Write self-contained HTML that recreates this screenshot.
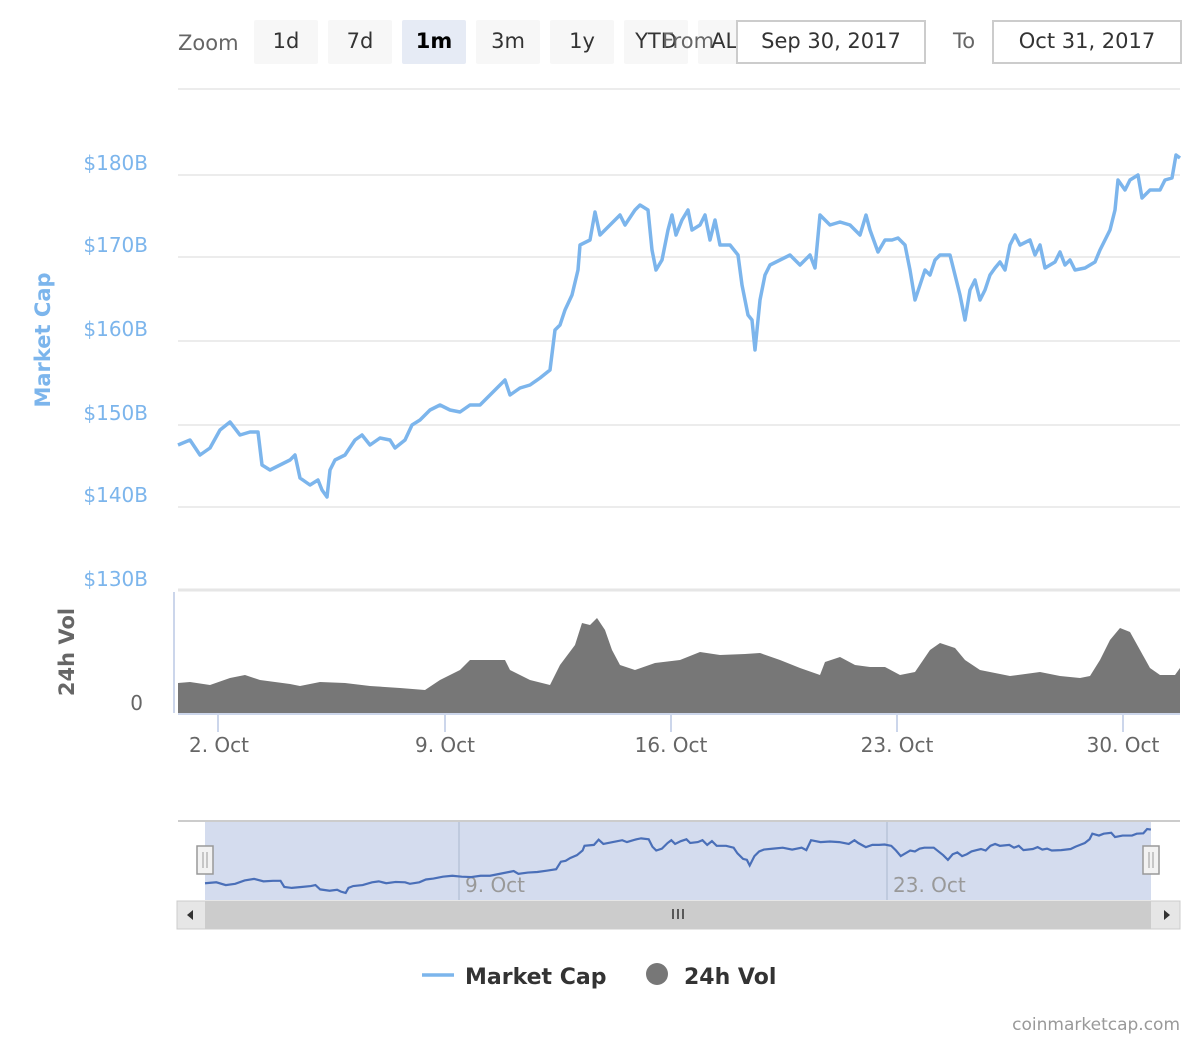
<!DOCTYPE html>
<html><head><meta charset="utf-8"><style>
body{margin:0;background:#fff;}
svg text{font-family:"DejaVu Sans","Liberation Sans",sans-serif;}
</style></head><body>
<svg width="1200" height="1040" xmlns="http://www.w3.org/2000/svg">
<defs>
<polyline id="price" fill="none" vector-effect="non-scaling-stroke" points="178,445 190,440 200,455 210,448 220,430 230,422 240,435 250,432 258,432 262,465 270,470 280,465 290,460 295,455 300,478 310,485 318,480 322,490 327,497 330,470 335,460 345,455 355,440 362,435 370,445 380,438 390,440 395,448 405,440 412,425 420,420 430,410 440,405 450,410 460,412 470,405 480,405 490,395 500,385 505,380 510,395 520,388 530,385 540,378 550,370 555,330 560,325 565,310 572,295 578,270 580,245 590,240 595,212 600,235 610,225 620,215 625,225 635,210 640,205 648,210 652,250 656,270 662,260 668,230 672,215 676,235 682,220 688,210 692,230 700,225 705,215 710,240 715,220 720,245 730,245 738,255 742,285 748,315 752,320 755,350 760,300 765,275 770,265 780,260 790,255 800,265 810,255 815,268 820,215 830,225 840,222 850,225 860,235 866,215 870,230 878,252 885,240 892,240 898,238 905,245 910,270 915,300 920,285 925,270 930,275 935,260 940,255 950,255 955,275 960,295 965,320 970,290 975,280 980,300 985,290 990,275 995,268 1000,262 1005,270 1010,245 1015,235 1020,245 1030,240 1035,255 1040,245 1045,268 1055,262 1060,252 1065,265 1070,260 1075,270 1085,268 1095,262 1100,250 1105,240 1110,230 1115,210 1118,180 1125,190 1130,180 1138,175 1142,198 1150,190 1160,190 1165,180 1172,178 1176,155 1180,158"/>
</defs>
<g font-size="21" fill="#333">
<text x="178" y="50" fill="#666">Zoom</text>
<rect x="254" y="20" width="64" height="44" rx="2" fill="#f7f7f7"/><text x="286" y="48" text-anchor="middle">1d</text>
<rect x="328" y="20" width="64" height="44" rx="2" fill="#f7f7f7"/><text x="360" y="48" text-anchor="middle">7d</text>
<rect x="402" y="20" width="64" height="44" rx="2" fill="#e6ebf5"/><text x="434" y="48" text-anchor="middle" font-weight="bold" fill="#000">1m</text>
<rect x="476" y="20" width="64" height="44" rx="2" fill="#f7f7f7"/><text x="508" y="48" text-anchor="middle">3m</text>
<rect x="550" y="20" width="64" height="44" rx="2" fill="#f7f7f7"/><text x="582" y="48" text-anchor="middle">1y</text>
<rect x="624" y="20" width="64" height="44" rx="2" fill="#f7f7f7"/><text x="656" y="48" text-anchor="middle">YTD</text>
<rect x="698" y="20" width="64" height="44" rx="2" fill="#f7f7f7"/>
<text x="662" y="48" fill="#666">From</text><text x="730" y="48" text-anchor="middle">ALL</text>
<rect x="737" y="21" width="188" height="42" fill="#fff" stroke="#ccc" stroke-width="2"/><text x="831" y="48" text-anchor="middle">Sep 30, 2017</text>
<text x="964" y="48" text-anchor="middle" fill="#666">To</text>
<rect x="993" y="21" width="188" height="42" fill="#fff" stroke="#ccc" stroke-width="2"/><text x="1087" y="48" text-anchor="middle">Oct 31, 2017</text>
</g>
<g stroke="#e6e6e6" stroke-width="1.5">
<line x1="178" y1="89" x2="1180" y2="89"/>
<line x1="178" y1="175" x2="1180" y2="175"/>
<line x1="178" y1="257" x2="1180" y2="257"/>
<line x1="178" y1="341" x2="1180" y2="341"/>
<line x1="178" y1="425" x2="1180" y2="425"/>
<line x1="178" y1="507" x2="1180" y2="507"/>
<line x1="178" y1="590" x2="1180" y2="590" stroke-width="3"/>
</g>
<g font-size="20" fill="#7cb5ec" text-anchor="end">
<text x="148" y="170">$180B</text><text x="148" y="252">$170B</text><text x="148" y="336">$160B</text>
<text x="148" y="420">$150B</text><text x="148" y="502">$140B</text><text x="148" y="586">$130B</text>
</g>
<text transform="translate(50,340) rotate(-90)" font-size="21" font-weight="bold" fill="#7cb5ec" text-anchor="middle">Market Cap</text>
<text transform="translate(74,652) rotate(-90)" font-size="21" font-weight="bold" fill="#666" text-anchor="middle">24h Vol</text>
<text x="143" y="710" font-size="20" fill="#666" text-anchor="end">0</text>
<line x1="174" y1="592" x2="174" y2="713" stroke="#ccd6eb" stroke-width="2"/>
<polygon fill="#777" points="178,713 178,683 190,682 210,685 230,678 245,675 260,680 290,684 300,686 320,682 345,683 370,686 400,688 425,690 440,680 460,670 470,660 505,660 510,670 530,680 550,685 560,665 575,645 582,623 590,625 597,618 605,630 612,650 620,665 635,670 655,663 680,660 700,652 720,655 745,654 760,653 780,660 800,668 820,675 825,662 840,657 855,665 870,667 885,667 900,675 915,672 930,650 940,643 955,648 965,660 980,670 1010,676 1040,672 1060,676 1080,678 1090,676 1100,660 1110,640 1120,628 1130,632 1140,650 1150,668 1160,675 1175,675 1180,668 1180,713"/>
<line x1="178" y1="714" x2="1180" y2="714" stroke="#ccd6eb" stroke-width="2"/>
<g stroke="#ccd6eb" stroke-width="2"><line x1="218" y1="714" x2="218" y2="732"/><line x1="445" y1="714" x2="445" y2="732"/><line x1="671" y1="714" x2="671" y2="732"/><line x1="897" y1="714" x2="897" y2="732"/><line x1="1123" y1="714" x2="1123" y2="732"/></g>
<g font-size="20" fill="#666" text-anchor="middle">
<text x="219" y="752">2. Oct</text><text x="445" y="752">9. Oct</text><text x="671" y="752">16. Oct</text><text x="897" y="752">23. Oct</text><text x="1123" y="752">30. Oct</text>
</g>
<use href="#price" stroke="#7cb5ec" stroke-width="3.5" stroke-linejoin="round"/>
<line x1="178" y1="821" x2="1180" y2="821" stroke="#ccc" stroke-width="2"/>
<rect x="205" y="822" width="946" height="78" fill="#ccd6eb" fill-opacity="0.85"/>
<g stroke="#b8c4d8" stroke-width="1.5"><line x1="459" y1="822" x2="459" y2="900"/><line x1="887" y1="822" x2="887" y2="900"/></g>
<g font-size="20" fill="#999"><text x="465" y="892">9. Oct</text><text x="893" y="892">23. Oct</text></g>
<use href="#price" stroke="#4a6fb8" stroke-width="2.2" transform="translate(205,829) scale(0.944,0.187) translate(-178,-155)"/>
<g fill="#f2f2f2" stroke="#999" stroke-width="1.5">
<rect x="197" y="846" width="16" height="28"/><rect x="1143" y="846" width="16" height="28"/>
</g>
<g stroke="#999" stroke-width="1"><line x1="203" y1="852" x2="203" y2="868"/><line x1="207" y1="852" x2="207" y2="868"/><line x1="1149" y1="852" x2="1149" y2="868"/><line x1="1153" y1="852" x2="1153" y2="868"/></g>
<rect x="177" y="901" width="1003" height="28" fill="#e6e6e6" stroke="#ccc"/>
<rect x="205" y="901" width="946" height="28" fill="#ccc"/>
<g stroke="#333" stroke-width="1.5"><line x1="673" y1="909" x2="673" y2="919"/><line x1="678" y1="909" x2="678" y2="919"/><line x1="683" y1="909" x2="683" y2="919"/></g>
<polygon points="193,910 187,915 193,920" fill="#333"/><polygon points="1164,910 1170,915 1164,920" fill="#333"/>
<line x1="422" y1="975" x2="454" y2="975" stroke="#7cb5ec" stroke-width="3.5"/>
<text x="465" y="984" font-size="22" font-weight="bold" fill="#333">Market Cap</text>
<circle cx="657" cy="974" r="11" fill="#777"/>
<text x="684" y="984" font-size="22" font-weight="bold" fill="#333">24h Vol</text>
<text x="1180" y="1030" font-size="17" fill="#999" text-anchor="end">coinmarketcap.com</text>
</svg>
</body></html>
